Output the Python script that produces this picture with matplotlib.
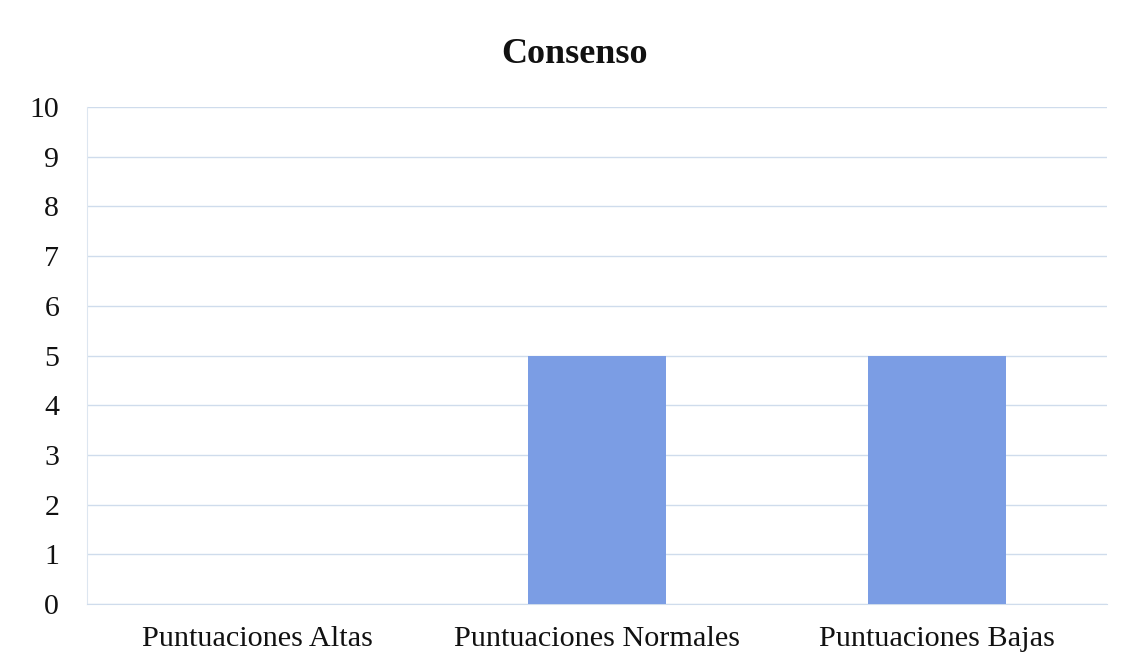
import matplotlib
matplotlib.use("Agg")
import matplotlib.pyplot as plt

categories = ["Puntuaciones Altas", "Puntuaciones Normales", "Puntuaciones Bajas"]
values = [0, 5, 5]
y_ticks = list(range(0, 11))

plt.rcParams['font.family'] = ['Liberation Serif', 'DejaVu Serif']

fig = plt.figure(figsize=(11.30, 6.68), dpi=100)
ax = fig.add_axes([0.0770, 0.0958, 0.9030, 0.744])

x = list(range(len(categories)))
ax.bar(x, values, width=0.405, color="#7b9de4", zorder=3)

ax.set_xlim(-0.5, len(categories) - 0.5)
ax.set_ylim(0, 10)
ax.set_yticks(y_ticks)
ax.set_yticklabels([str(t) for t in y_ticks], fontsize=21.5)
ax.set_xticks(x)
ax.set_xticklabels(categories, fontsize=21.8)
ax.tick_params(axis='both', length=0, colors='#111111')
ax.tick_params(axis='y', pad=20)
ax.tick_params(axis='x', pad=16)

ax.grid(axis='y', color='#cfdcec', linewidth=1.0, zorder=0)
for side in ['top', 'right']:
    ax.spines[side].set_visible(False)
ax.spines['left'].set_color('#dde6f0')
ax.spines['bottom'].set_color('#cfdcec')

fig.text(0.5088, 0.918, "Consenso", ha='center', va='center',
         fontsize=26, fontweight='bold', color='#111111')

fig.savefig("out.png", dpi=100, facecolor='white')
